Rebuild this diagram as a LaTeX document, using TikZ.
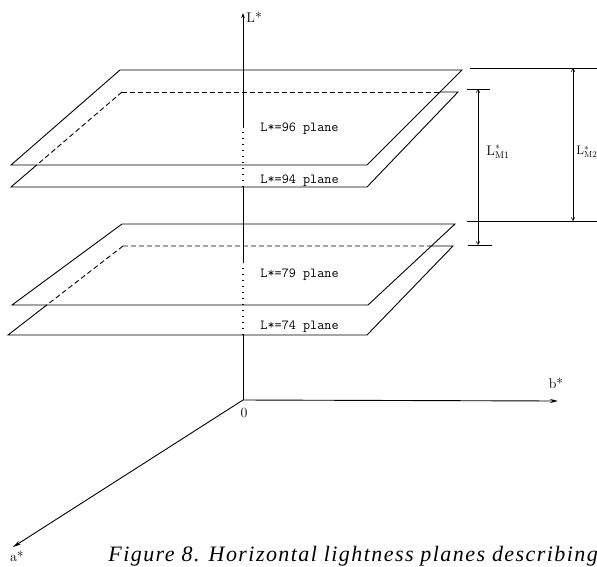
\documentclass[tikz,border=0pt]{standalone}
\usepackage{fontspec}
\newfontfamily\capfont[LetterSpace=6.5]{Liberation Serif}
\usetikzlibrary{arrows.meta}

\begin{document}
\begin{tikzpicture}[x=1pt,y=-1pt,line width=0.9pt,
    hidden/.style={dash pattern=on 5pt off 3pt},
    axisdots/.style={dash pattern=on 1.3pt off 4.7pt,line width=1.3pt},
    planelabel/.style={font=\ttfamily\fontsize{13.8}{14}\selectfont,anchor=base west,inner sep=0pt},
    axislabel/.style={font=\fontsize{14}{14}\selectfont,inner sep=0pt},
    dimarrow/.style={{Straight Barb[length=3pt,width=3.5pt]}-{Straight Barb[length=3pt,width=3.5pt]},line width=0.6pt}]

    \useasboundingbox (0,0) rectangle (597,566);

    % Axes
    \coordinate (O) at (243,400);
    \coordinate (Ltop) at (243,13);
    \coordinate (bend) at (558,401);
    \coordinate (aend) at (13,547);
    \coordinate (L1) at (243,335);
    \coordinate (L2) at (243,263);
    \coordinate (L3) at (243,187);
    \coordinate (L4) at (243,128);
    \draw (O) -- (L1);
    \draw[axisdots] (L1) -- (L2);
    \draw (L2) -- (L3);
    \draw[axisdots] (L3) -- (L4);
    \draw[-{Stealth[length=5pt,width=3.5pt]}] (L4) -- (Ltop);
    \draw[-{Stealth[length=8pt,width=4pt]}] (O) -- (bend);
    \draw[-{Stealth[length=8pt,width=4pt]}] (O) -- (aend);

    % Upper pair of planes
    \coordinate (p96bl) at (120,70);
    \coordinate (p96br) at (462,70);
    \coordinate (p96fr) at (367,165);
    \coordinate (p96fl) at (11,165);
    \draw (p96bl) -- (p96br) -- (p96fr) -- (p96fl) -- cycle;

    \coordinate (p94bl) at (122,92);
    \coordinate (p94br) at (458,92);
    \coordinate (p94fr) at (367,187);
    \coordinate (p94fl) at (11,187);
    \coordinate (p94x) at (intersection of p94bl--p94br and p96br--p96fr);
    \coordinate (p94y) at (intersection of p94bl--p94fl and p96fl--p96fr);
    \draw[hidden] (p94bl) -- (p94x);
    \draw[hidden] (p94bl) -- (p94y);
    \draw (p94x) -- (p94br) -- (p94fr) -- (p94fl) -- (p94y);

    % Lower pair of planes
    \coordinate (p79bl) at (122,224);
    \coordinate (p79br) at (455,224);
    \coordinate (p79fr) at (368,305);
    \coordinate (p79fl) at (12,305);
    \draw (p79bl) -- (p79br) -- (p79fr) -- (p79fl) -- cycle;

    \coordinate (p74bl) at (123,246);
    \coordinate (p74br) at (453,246);
    \coordinate (p74fr) at (367,335);
    \coordinate (p74fl) at (8,335);
    \coordinate (p74x) at (intersection of p74bl--p74br and p79br--p79fr);
    \coordinate (p74y) at (intersection of p74bl--p74fl and p79fl--p79fr);
    \draw[hidden] (p74bl) -- (p74x);
    \draw[hidden] (p74bl) -- (p74y);
    \draw (p74x) -- (p74br) -- (p74fr) -- (p74fl) -- (p74y);

    % Distances between the planes
    \coordinate (m1t) at (478,89);
    \coordinate (m1b) at (478,245);
    \draw (467,89) -- (490,89);
    \draw (468,245) -- (492,245);
    \draw[dimarrow] (m1t) -- (m1b);

    \coordinate (m2t) at (573,68);
    \coordinate (m2b) at (573,221);
    \draw (470,68) -- (597,68);
    \draw (467,221) -- (597,221);
    \draw[dimarrow] (m2t) -- (m2b);

    % Labels
    \node[axislabel,anchor=west] (Llab) at (246,17) {L*};
    \node[axislabel] (blab) at (556,383) {b*};
    \node[axislabel] (alab) at (17,556) {a*};
    \node[axislabel] (olab) at (244,413) {0};

    \node[planelabel] (t96) at (260,131) {L*=96 plane};
    \node[planelabel] (t94) at (260,183) {L*=94 plane};
    \node[planelabel] (t79) at (260,277) {L*=79 plane};
    \node[planelabel] (t74) at (260,329) {L*=74 plane};

    \node[axislabel,anchor=west,font=\fontsize{14}{14}\selectfont] (m1lab) at (486,152) {L$^{*}_{\mathrm{M1}}$};
    \node[axislabel,anchor=west,font=\fontsize{12.5}{13}\selectfont] (m2lab) at (576,152) {L$^{*}_{\mathrm{M2}}$};

    \node[anchor=base west,inner sep=0pt,font=\capfont\itshape\fontsize{22}{24}\selectfont] (caption)
        at (108,561) {Figure 8. Horizontal lightness planes describing};

\end{tikzpicture}
\end{document}
